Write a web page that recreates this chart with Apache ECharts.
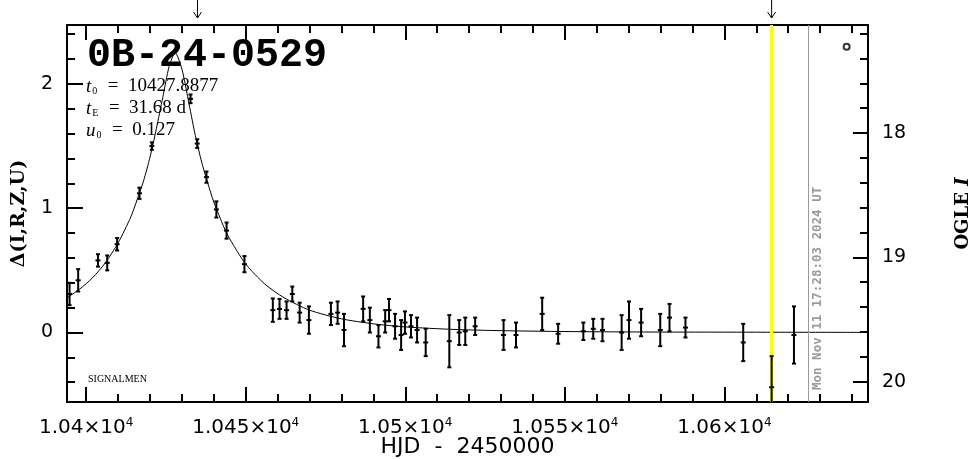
<!DOCTYPE html>
<html><head><meta charset="utf-8">
<script src="https://cdn.jsdelivr.net/npm/echarts@6/dist/echarts.min.js"></script>
<style>html,body{margin:0;padding:0;background:#fff}#c{width:971px;height:459px}</style>
</head><body><div id="c"></div>
<script>
// ---- data ----
const hjd = [10394.8,10397.5,10403.7,10406.6,10409.7,10416.7,10420.6,10432.7,10434.8,10437.7,10440.8,10444.0,10449.6,
  10458.5,10460.6,10462.8,10464.6,10466.9,10469.8,10476.7,10478.8,10480.8,10486.8,10488.9,10491.6,10493.7,10494.9,
  10496.8,10498.7,10499.9,10501.8,10503.7,10506.4,10513.8,10516.9,10518.8,10521.9,10530.8,10534.7,10542.9,10547.9,
  10555.8,10558.9,10561.8,10567.8,10570.1,10573.9,10579.9,10582.8,10587.8,10605.9,10614.8,10621.8];
const delta = [0.31,0.42,0.58,0.56,0.71,1.12,1.50,1.88,1.52,1.25,0.99,0.82,0.55,
  0.18,0.19,0.18,0.31,0.16,0.10,0.15,0.16,0.02,0.19,0.10,-0.03,0.09,0.18,
  0.05,-0.02,0.08,0.05,0.02,-0.08,-0.07,0.00,0.01,0.05,-0.02,-0.02,0.15,-0.01,
  0.01,0.03,0.02,0.00,0.10,0.08,0.02,0.12,0.04,-0.08,-0.44,-0.02];
const deltaErr = [0.09,0.09,0.05,0.06,0.05,0.045,0.03,0.035,0.035,0.045,0.065,0.065,0.065,
  0.094,0.08,0.07,0.06,0.08,0.11,0.09,0.09,0.13,0.10,0.10,0.09,0.09,0.09,
  0.10,0.12,0.09,0.09,0.10,0.11,0.21,0.10,0.11,0.07,0.12,0.10,0.13,0.08,
  0.07,0.08,0.09,0.14,0.15,0.11,0.13,0.11,0.08,0.15,0.25,0.23];
const modelHJD = [10394,10398,10402,10406,10410,10414,10416,10418,10420,10421,10422,10424,10426,10427.9,10430,10432,10434,10435,10436,10438,10440,10442,10444,10446,10450,10456,10462,10470,10480,10490,10500,10515,10530,10550,10575,10600,10645];
const modelDelta = [0.28,0.35,0.44,0.56,0.72,0.93,1.07,1.22,1.41,1.52,1.64,1.89,2.14,2.25,2.12,1.87,1.61,1.50,1.39,1.21,1.05,0.92,0.80,0.71,0.55,0.39,0.28,0.18,0.11,0.07,0.045,0.025,0.015,0.008,0.004,0.003,0.001];
const xMajorTicks = [10400,10450,10500,10550,10600];
const xTickLabels = ['1.04','1.045','1.05','1.055','1.06'];
const xMinorTicks = [10400,10410,10420,10430,10440,10450,10460,10470,10480,10490,10500,10510,10520,10530,10540,10550,10560,10570,10580,10590,10600,10610,10620,10630,10640];
const yMajorTicks = [0,1,2];
const yMinorTicks = [-0.4,-0.2,0,0.2,0.4,0.6,0.8,1,1.2,1.4,1.6,1.8,2,2.2,2.4];
const magMajorTicks = [18,19,20];
const magMinorTicks = [17.2,17.4,17.6,17.8,18,18.2,18.4,18.6,18.8,19,19.2,19.4,19.6,19.8,20];
const alertHJD = 10614.8;
const nowHJD = 10626.4;
const nowLabel = 'Mon Nov 11 17:28:03 2024 UT';
const arrowHJD = [10434.9, 10614.8];
const markerPoint = [[10638.3, 2.30]];
const eventName = '0B-24-0529';
const paramT0 = '10427.8877';
const paramTE = '31.68 d';
const paramU0 = '0.127';

// ---- layout ----
const xMin = 10394, xMax = 10645;
const yMin = -0.559, yMax = 2.474;
const magMin = 17.131, magMax = 20.164;

const chart = echarts.init(document.getElementById('c'), null, {renderer:'canvas'});
const blk = '#000';
function xAx(pos, ticks, len, line, labels){
  return {type:'value', position:pos, min:xMin, max:xMax, gridIndex:0,
    axisLine:{show:line, onZero:false, lineStyle:{color:blk, width:2}},
    axisTick:{show:true, inside:true, length:len, customValues:ticks, lineStyle:{color:blk, width:2}},
    axisLabel: labels ? {show:true, customValues:xMajorTicks, margin:15, color:blk, fontFamily:'DejaVu Sans', fontSize:20,
      formatter:(v)=>{const i=xMajorTicks.indexOf(v); return i>=0 ? xTickLabels[i]+'×10{sup|4}' : '';},
      rich:{sup:{fontSize:12, fontFamily:'DejaVu Sans', color:blk, padding:[0,0,10,0]}}} : {show:false},
    splitLine:{show:false}};
}
function yAx(pos, min, max, inverse, ticks, len, line, labelVals){
  return {type:'value', position:pos, min:min, max:max, inverse:inverse, gridIndex:0,
    axisLine:{show:line, onZero:false, lineStyle:{color:blk, width:2}},
    axisTick:{show:true, inside:true, length:len, customValues:ticks, lineStyle:{color:blk, width:2}},
    axisLabel: labelVals ? {show:true, customValues:labelVals, margin:14, color:blk, fontFamily:'DejaVu Sans', fontSize:19} : {show:false},
    splitLine:{show:false}};
}
const xAxes = [xAx('bottom', xMajorTicks, 15, true, true), xAx('bottom', xMinorTicks, 8, false, false),
               xAx('top', xMajorTicks, 15, true, false), xAx('top', xMinorTicks, 8, false, false)];
xAxes[0].name = 'HJD  -  2450000';
xAxes[0].nameLocation = 'middle';
xAxes[0].nameGap = 34;
xAxes[0].nameMoveOverlap = false;
xAxes[0].nameTextStyle = {color:blk, fontFamily:'DejaVu Sans', fontSize:22};
const yAxes = [yAx('left', yMin, yMax, false, yMajorTicks, 16, true, yMajorTicks), yAx('left', yMin, yMax, false, yMinorTicks, 8, false, null),
               yAx('right', magMin, magMax, true, magMajorTicks, 15, true, magMajorTicks), yAx('right', magMin, magMax, true, magMinorTicks, 8, false, null)];
yAxes[0].name = 'Δ(I,R,Z,U)';
yAxes[0].nameLocation = 'middle';
yAxes[0].nameRotate = 90;
yAxes[0].nameGap = 38;
yAxes[0].nameMoveOverlap = false;
yAxes[0].nameTextStyle = {color:blk, fontFamily:'DejaVu Serif', fontWeight:'bold', fontSize:19};
yAxes[2].name = 'OGLE {it|I}';
yAxes[2].nameLocation = 'middle';
yAxes[2].nameRotate = 90;
yAxes[2].nameGap = 86;
yAxes[2].nameMoveOverlap = false;
yAxes[2].nameTextStyle = {color:blk, fontFamily:'DejaVu Serif', fontWeight:'bold', fontSize:18,
  rich:{it:{fontStyle:'italic', fontFamily:'DejaVu Serif', fontWeight:'bold', fontSize:18, color:blk}}};

const serif = 'Liberation Serif';
function paramText(sym, sub, val, top){
  return {type:'text', left:86, top:top, z:50,
    style:{text:'{t|'+sym+'}{s|'+sub+'}{n|  =  '+val+'}', rich:{
      t:{fontFamily:serif, fontStyle:'italic', fontSize:19, fill:blk},
      s:{fontFamily:serif, fontSize:10, fill:blk, padding:[10,1,0,1]},
      n:{fontFamily:serif, fontSize:19, fill:blk}}}};
}

chart.setOption({
  animation:false,
  backgroundColor:'#fff',
  grid:{left:67, right:103, top:25, bottom:57, containLabel:false, outerBoundsMode:'none'},
  xAxis:xAxes,
  yAxis:yAxes,
  graphic:[
    {type:'text', left:87, top:36, z:50, style:{text:eventName, font:'bold 40px "Liberation Mono"', fill:blk}},
    paramText('t','0',paramT0,77),
    paramText('t','E',paramTE,99),
    paramText('u','0',paramU0,121),
    {type:'text', left:88, top:374, z:50, style:{text:'SIGNALMEN', font:'10px "Liberation Serif"', fill:blk}}
  ],
  series:[
    {type:'line', name:'model', xAxisIndex:0, yAxisIndex:0, z:3,
     data:modelHJD.map((h,i)=>[h, modelDelta[i]]), showSymbol:false, smooth:0.25,
     lineStyle:{color:blk, width:1}, silent:true,
     markLine:{silent:true, symbol:['none','none'], animation:false,
       data:[
         {xAxis:alertHJD, lineStyle:{color:'#ffff00', width:3, type:'solid'}, label:{show:false}},
         {xAxis:nowHJD, lineStyle:{color:'#9a9a9a', width:1, type:'solid'},
          label:{show:true, formatter:nowLabel, position:'insideStartBottom', distance:[12,3], color:'#9a9a9a',
                 fontFamily:'DejaVu Sans Mono', fontWeight:'bold', fontSize:12.5}}
       ]}},
    {type:'custom', name:'data', xAxisIndex:0, yAxisIndex:0, z:5, clip:true,
     data:hjd.map((h,i)=>[h, delta[i], deltaErr[i]]),
     encode:{x:0, y:1},
     renderItem:(params, api)=>{
       const x = api.value(0), y = api.value(1), e = api.value(2);
       const c = api.coord([x,y]); const t = api.coord([x,y+e]); const b = api.coord([x,y-e]);
       const st = {stroke:blk, lineWidth:2};
       return {type:'group', children:[
         {type:'line', shape:{x1:c[0], y1:t[1], x2:c[0], y2:b[1]}, style:st},
         {type:'line', shape:{x1:c[0]-2, y1:t[1], x2:c[0]+2, y2:t[1]}, style:st},
         {type:'line', shape:{x1:c[0]-2, y1:b[1], x2:c[0]+2, y2:b[1]}, style:st},
         {type:'line', shape:{x1:c[0]-2.5, y1:c[1], x2:c[0]+2.5, y2:c[1]}, style:st}
       ]};
     }},
    {type:'custom', name:'arrows', xAxisIndex:0, yAxisIndex:0, z:6, clip:false,
     data:arrowHJD.map(h=>[h]),
     encode:{x:0},
     renderItem:(params, api)=>{
       const p = api.coord([api.value(0), yMax]);
       const x = p[0], y0 = p[1];
       const st = {stroke:blk, lineWidth:1, fill:null};
       return {type:'group', children:[
         {type:'line', shape:{x1:x, y1:y0-25, x2:x, y2:y0-7}, style:st},
         {type:'polyline', shape:{points:[[x-4,y0-13],[x,y0-7],[x+4,y0-13]]}, style:st}
       ]};
     }},
    {type:'scatter', name:'marker', xAxisIndex:0, yAxisIndex:0, z:6, data:markerPoint,
     symbol:'circle', symbolSize:6, itemStyle:{color:'#fff', borderColor:blk, borderWidth:2}, silent:true}
  ]
});
</script></body></html>
